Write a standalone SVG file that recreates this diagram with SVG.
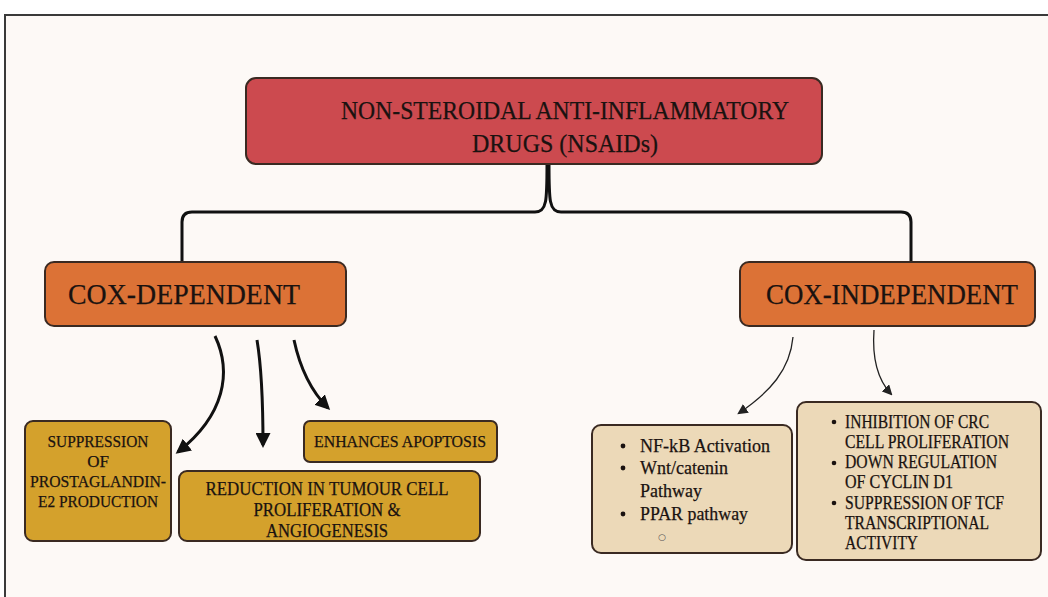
<svg xmlns="http://www.w3.org/2000/svg" width="1048" height="597" viewBox="0 0 1048 597">
<defs>
<style>
.t{font-family:"Liberation Serif","Times New Roman",serif;fill:#1a1210;stroke:#1a1210;stroke-width:0.25}
.box{stroke:#3a2a22;stroke-width:2}
.conn{fill:none;stroke:#111;stroke-width:3}
.thin{fill:none;stroke:#222;stroke-width:1.3}
</style>
<marker id="ah" viewBox="0 0 10 10" refX="8" refY="5" markerWidth="5" markerHeight="5" orient="auto" markerUnits="strokeWidth"><path d="M0,0 L10,5 L0,10 z" fill="#111"/></marker>
<marker id="ahs" viewBox="0 0 10 10" refX="8" refY="5" markerWidth="8" markerHeight="8" orient="auto" markerUnits="strokeWidth"><path d="M0,0 L10,5 L0,10 z" fill="#222"/></marker>
</defs>
<rect x="0" y="0" width="1048" height="597" fill="#ffffff"/>
<rect x="5" y="15" width="1060" height="600" fill="#fdf9f6" stroke="#3a3a3a" stroke-width="2"/>

<g id="connectors">
<path class="conn" d="M547,164 C547,200 547,212 535,212 L192,212 Q182,212 182,222 L182,262"/>
<path class="conn" d="M549,164 C549,200 549,212 561,212 L901,212 Q911,212 911,222 L911,262"/>
<path class="conn" d="M215,336 C232,372 225,415 178,452" stroke-width="2.5" marker-end="url(#ah)"/>
<path class="conn" d="M257,340 C262,370 263,410 263,445" stroke-width="2.5" marker-end="url(#ah)"/>
<path class="conn" d="M294,340 C300,368 310,390 328,408" stroke-width="2.5" marker-end="url(#ah)"/>
<path class="thin" d="M793,337 C790,370 770,392 739,413" marker-end="url(#ahs)"/>
<path class="thin" d="M874,330 C872,358 878,380 891,394" marker-end="url(#ahs)"/>
</g>

<g id="nsaids">
<rect class="box" x="246" y="78" width="576" height="86" rx="10" fill="#cc4a4f"/>
<text class="t" x="565" y="119" font-size="26" text-anchor="middle" textLength="448" lengthAdjust="spacingAndGlyphs">NON-STEROIDAL ANTI-INFLAMMATORY</text>
<text class="t" x="565" y="152" font-size="26" text-anchor="middle" textLength="186" lengthAdjust="spacingAndGlyphs">DRUGS (NSAIDs)</text>
</g>

<g id="cox-dependent">
<rect class="box" x="45" y="262" width="301" height="64" rx="9" fill="#dc7236"/>
<text class="t" x="184" y="304" font-size="30" text-anchor="middle" textLength="232" lengthAdjust="spacingAndGlyphs">COX-DEPENDENT</text>
</g>

<g id="cox-independent">
<rect class="box" x="740" y="262" width="295" height="64" rx="9" fill="#dc7236"/>
<text class="t" x="892" y="304" font-size="29" text-anchor="middle" textLength="252" lengthAdjust="spacingAndGlyphs">COX-INDEPENDENT</text>
</g>

<g id="suppression">
<rect class="box" x="25" y="421" width="146" height="120" rx="8" fill="#d4a12c"/>
<text class="t" x="98" y="447" font-size="17" text-anchor="middle" textLength="101" lengthAdjust="spacingAndGlyphs">SUPPRESSION</text>
<text class="t" x="98" y="467" font-size="17" text-anchor="middle">OF</text>
<text class="t" x="98" y="487" font-size="17" text-anchor="middle" textLength="136" lengthAdjust="spacingAndGlyphs">PROSTAGLANDIN-</text>
<text class="t" x="98" y="507" font-size="17" text-anchor="middle" textLength="120" lengthAdjust="spacingAndGlyphs">E2 PRODUCTION</text>
</g>

<g id="apoptosis">
<rect class="box" x="304" y="421" width="193" height="41" rx="6" fill="#d4a12c"/>
<text class="t" x="400" y="447" font-size="17" text-anchor="middle" textLength="172" lengthAdjust="spacingAndGlyphs">ENHANCES APOPTOSIS</text>
</g>

<g id="reduction">
<rect class="box" x="179" y="471" width="301" height="70" rx="8" fill="#d4a12c"/>
<text class="t" x="327" y="495" font-size="18" text-anchor="middle" textLength="243" lengthAdjust="spacingAndGlyphs">REDUCTION IN TUMOUR CELL</text>
<text class="t" x="327" y="516" font-size="18" text-anchor="middle" textLength="147" lengthAdjust="spacingAndGlyphs">PROLIFERATION &amp;</text>
<text class="t" x="327" y="537" font-size="18" text-anchor="middle" textLength="122" lengthAdjust="spacingAndGlyphs">ANGIOGENESIS</text>
</g>

<g id="cox-ind-list1">
<rect class="box" x="592" y="425" width="200" height="128" rx="9" fill="#ecd9b8"/>
<circle cx="623" cy="446" r="2.4" fill="#1a1210"/>
<circle cx="623" cy="468" r="2.4" fill="#1a1210"/>
<circle cx="623" cy="514" r="2.4" fill="#1a1210"/>
<text class="t" x="640" y="452" font-size="19" textLength="130" lengthAdjust="spacingAndGlyphs">NF-kB Activation</text>
<text class="t" x="640" y="474" font-size="19" textLength="88" lengthAdjust="spacingAndGlyphs">Wnt/catenin</text>
<text class="t" x="640" y="497" font-size="19" textLength="62" lengthAdjust="spacingAndGlyphs">Pathway</text>
<text class="t" x="640" y="520" font-size="19" textLength="108" lengthAdjust="spacingAndGlyphs">PPAR pathway</text>
<text x="662" y="540" font-size="9" text-anchor="middle" fill="#555" font-family="'DejaVu Sans',sans-serif">○</text>
</g>

<g id="cox-ind-list2">
<rect class="box" x="797" y="402" width="244" height="158" rx="9" fill="#ecd9b8"/>
<circle cx="834" cy="422" r="2.3" fill="#1a1210"/>
<circle cx="834" cy="463" r="2.3" fill="#1a1210"/>
<circle cx="834" cy="503" r="2.3" fill="#1a1210"/>
<text class="t" x="845" y="428" font-size="18" textLength="144" lengthAdjust="spacingAndGlyphs">INHIBITION OF CRC</text>
<text class="t" x="845" y="448" font-size="18" textLength="164" lengthAdjust="spacingAndGlyphs">CELL PROLIFERATION</text>
<text class="t" x="845" y="468" font-size="18" textLength="152" lengthAdjust="spacingAndGlyphs">DOWN REGULATION</text>
<text class="t" x="845" y="488" font-size="18" textLength="108" lengthAdjust="spacingAndGlyphs">OF CYCLIN D1</text>
<text class="t" x="845" y="509" font-size="18" textLength="159" lengthAdjust="spacingAndGlyphs">SUPPRESSION OF TCF</text>
<text class="t" x="845" y="529" font-size="18" textLength="144" lengthAdjust="spacingAndGlyphs">TRANSCRIPTIONAL</text>
<text class="t" x="845" y="549" font-size="18" textLength="73" lengthAdjust="spacingAndGlyphs">ACTIVITY</text>
</g>
</svg>
